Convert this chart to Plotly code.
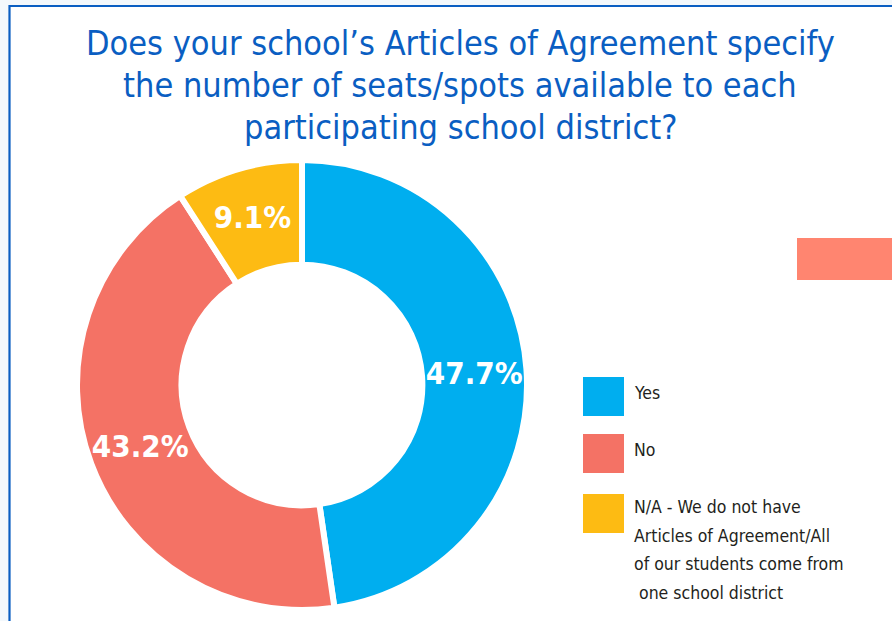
import plotly.graph_objects as go

# ---- data ----
labels = ["Yes", "No", "N/A - We do not have Articles of Agreement/All of our students come from one school district"]
legend_lines = [["Yes"], ["No"], ["N/A - We do not have", "Articles of Agreement/All", "of our students come from", " one school district"]]
values = [47.7, 43.2, 9.1]
colors = ["#00AEEF", "#F47265", "#FDBB13"]
title_lines = ["Does your school’s Articles of Agreement specify",
               "the number of seats/spots available to each",
               "participating school district?"]

W, H = 892, 621
def px(x):
    return x / W
def py(y):
    return 1 - y / H

COND = "DejaVu Sans Condensed, Liberation Sans Narrow, Liberation Sans, sans-serif"

fig = go.Figure()
cx, cy, R = 302, 385, 225
fig.add_trace(go.Pie(
    labels=labels, values=values, sort=False, direction="clockwise", rotation=0,
    hole=0.535,
    marker=dict(colors=colors, line=dict(color="white", width=6)),
    texttemplate="<b>%{value:.1f}%</b>", textposition="inside",
    insidetextorientation="horizontal",
    textfont=dict(family=COND, size=31, color="white"),
    domain=dict(x=[px(cx - R), px(cx + R)], y=[py(cy + R), py(cy - R)]),
    showlegend=False, hoverinfo="label+percent",
))

shapes = [
    dict(type="rect", xref="paper", yref="paper", x0=px(9.5), x1=1.02, y0=-0.02, y1=py(6),
         fillcolor="white", line=dict(color="#0A5EC2", width=2.2), layer="below"),
    dict(type="rect", xref="paper", yref="paper", x0=px(797), x1=1.01, y0=py(280), y1=py(238),
         fillcolor="#FF8570", line=dict(width=0)),
]
annotations = []
for k, line in enumerate(title_lines):
    annotations.append(dict(xref="paper", yref="paper", x=px(460), y=py(43 + k * 42), text=line,
                            showarrow=False, xanchor="center", yanchor="middle",
                            font=dict(family=COND, size=34, color="#0A5EC2")))
sq_tops = [377, 434, 494]
for i, (lines, col) in enumerate(zip(legend_lines, colors)):
    t = sq_tops[i]
    shapes.append(dict(type="rect", xref="paper", yref="paper", x0=px(583), x1=px(624),
                       y0=py(t + 39), y1=py(t), fillcolor=col, line=dict(width=0)))
    for j, line in enumerate(lines):
        yc = t + 13 + j * 28.5 if len(lines) > 1 else t + 16
        annotations.append(dict(xref="paper", yref="paper", x=px(632), y=py(yc),
                                text=line.replace(" ", "&nbsp;") if line.startswith(" ") else line,
                                showarrow=False, xanchor="left", yanchor="middle",
                                font=dict(family=COND, size=17.5, color="#231F20")))

fig.update_layout(
    width=W, height=H, margin=dict(l=0, r=0, t=0, b=0),
    paper_bgcolor="#F3F8FC", plot_bgcolor="white",
    shapes=shapes, annotations=annotations,
)
fig.write_html("out.html", config={"displayModeBar": False},
               post_script="document.body.style.margin='0';")
